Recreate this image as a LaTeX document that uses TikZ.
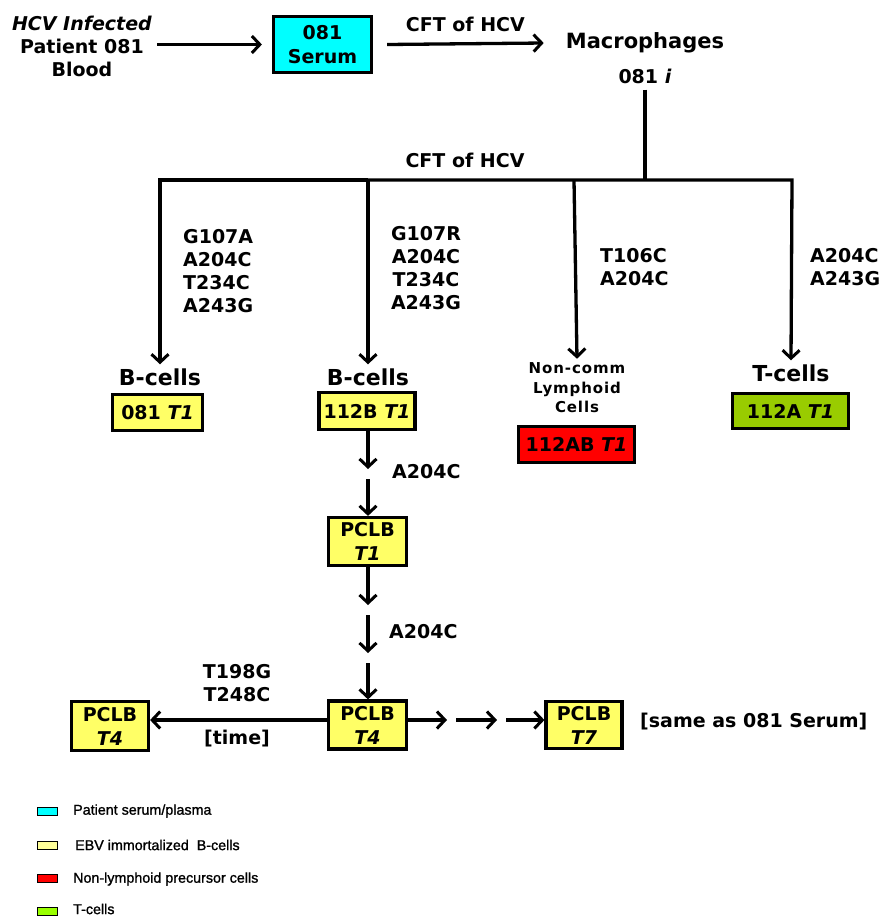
\documentclass[tikz,border=0pt]{standalone}
\usepackage{fontspec}
\setmainfont{DejaVu Sans}
\newfontfamily\legfont[FakeBold=1.2]{Liberation Sans}
\usetikzlibrary{arrows.meta}
\definecolor{cyanbox}{HTML}{00FFFF}
\definecolor{ybox}{HTML}{FFFF66}
\definecolor{redbox}{HTML}{FF0000}
\definecolor{gbox}{HTML}{99CC00}
\definecolor{legy}{HTML}{FFFF99}
\definecolor{legg}{HTML}{99FF00}
\begin{document}
\begin{tikzpicture}[x=1pt,y=-1pt,
  txt/.style={font=\bfseries\fontsize{19}{23}\selectfont, align=center, inner sep=0pt},
  big/.style={font=\bfseries\fontsize{22}{26}\selectfont, inner sep=4pt},
  small/.style={font=\bfseries\fontsize{15}{19.5}\selectfont\addfontfeature{LetterSpace=6}, align=center, inner sep=3pt},
  cbox/.style={draw=black, line width=3.2pt, font=\bfseries\fontsize{19}{24}\selectfont, align=center, inner sep=0pt},
  ln/.style={line width=3.3pt},
  arr/.style={line width=3.3pt, -{Straight Barb[length=8pt,width=17pt,line width=3pt]}},
  legbox/.style={draw=black, line width=1pt, minimum width=20pt, minimum height=8pt, inner sep=0pt},
  legtxt/.style={font=\legfont\fontsize{14.3}{16}\selectfont, anchor=west, inner sep=0pt}]
\useasboundingbox (0,0) rectangle (884,916);

% top row
\node[txt] (patient) at (82,46) {\textit{HCV Infected}\\Patient 081\\Blood};
\node[cbox, fill=cyanbox, minimum width=98pt, minimum height=56pt] (serum) at (322.5,44.5) {081\\Serum};
\node[font=\bfseries\fontsize{21}{25}\selectfont, inner sep=0pt] (macro) at (645,43) {Macrophages};
\node[txt] (m081) at (645,76) {081 \textit{i}};
\draw[arr] (patient.east |- serum.west) ++(5,0) -- ([xshift=-10pt]serum.west);
\draw[arr] ([xshift=14pt]serum.east) -- node[txt, yshift=19pt] (cft1) {CFT of HCV} ([xshift=-22pt]macro.west);

% branching
\coordinate (j) at (645,180);
\coordinate (b1) at (160,180);
\coordinate (b2) at (368,180);
\coordinate (b3) at (574,180);
\coordinate (b4) at (792,180);
\draw[ln] ([yshift=-6pt]m081.south) -- (j);
\node[txt] (cft2) at (465,160) {CFT of HCV};

\node[big] (bc1) at (160,377) {B-cells};
\node[big] (bc2) at (368,377) {B-cells};
\node[small] (nc) at (577,388) {Non-comm\\Lymphoid\\Cells};
\node[big] (tc) at (791,373) {T-cells};

\draw[arr, line join=miter] (b2) -- (b1) -- (bc1.north);
\draw[arr, line join=miter] (b2) -- (b4) -- (tc.north);
\draw[arr] (b2) -- (bc2.north);
\draw[arr] (b3) -- ([yshift=1pt]nc.north);

\node[txt, align=left, anchor=west] (l1) at (183,271) {G107A\\A204C\\T234C\\A243G};
\node[txt] (l2) at (426,268) {G107R\\A204C\\T234C\\A243G};
\node[txt, align=left, anchor=west] (l3) at (600,267) {T106C\\A204C};
\node[txt, align=left, anchor=west] (l4) at (810,267) {A204C\\A243G};

% cell boxes
\node[cbox, fill=ybox, minimum width=90pt, minimum height=36pt] (t081) at (157.5,412.5) {081 \textit{T1}};
\node[cbox, fill=ybox, minimum width=96pt, minimum height=37pt] (t112B) at (367,411) {112B \textit{T1}};
\node[cbox, fill=redbox, minimum width=116pt, minimum height=36pt] (t112AB) at (576.5,444.5) {112AB \textit{T1}};
\node[cbox, fill=gbox, minimum width=116pt, minimum height=35pt] (t112A) at (790.5,411) {112A \textit{T1}};

% chain
\node[cbox, fill=ybox, minimum width=78pt, minimum height=48pt] (p1) at (367.5,541.5) {PCLB\\\textit{T1}};
\node[cbox, fill=ybox, minimum width=78pt, minimum height=48pt] (p4) at (367.5,725) {PCLB\\\textit{T4}};
\node[cbox, fill=ybox, minimum width=77pt, minimum height=49pt] (pl) at (110,726) {PCLB\\\textit{T4}};
\node[cbox, fill=ybox, minimum width=76pt, minimum height=47pt] (p7) at (584,725) {PCLB\\\textit{T7}};

\coordinate (c1) at (368,469);
\coordinate (c2) at (368,479);
\coordinate (c3) at (368,605);
\coordinate (c4) at (368,615);
\coordinate (c5) at (368,653);
\coordinate (c6) at (368,663);
\draw[arr] (t112B.south -| c1) -- (c1);
\draw[arr] (c2) -- (p1.north -| c2);
\draw[arr] (p1.south -| c3) -- (c3);
\draw[arr] (c4) -- (c5);
\draw[arr] (c6) -- (p4.north -| c6);
\node[txt, anchor=west] (a1) at (392,472) {A204C};
\node[txt, anchor=west] (a2) at (389,632) {A204C};

% bottom row
\coordinate (r0) at (0,720);
\coordinate (r1) at (447,720);
\coordinate (r2) at (456,720);
\coordinate (r3) at (497,720);
\coordinate (r4) at (506,720);
\draw[arr] (p4.west |- r0) -- (pl.east |- r0);
\node[txt] (tt) at (237,683) {T198G\\T248C};
\node[txt] (time) at (237,739) {[time]};
\draw[arr] (p4.east |- r0) -- (r1);
\draw[arr] (r2) -- (r3);
\draw[arr] (r4) -- (p7.west |- r0);
\node[txt, anchor=west] (same) at (640,722) {[same as 081 Serum]};

% legend
\node[legbox, fill=cyanbox] (g1) at (47,811) {};
\node[legbox, fill=legy] (g2) at (47,845) {};
\node[legbox, fill=redbox] (g3) at (47,878.5) {};
\node[legbox, fill=legg] (g4) at (47,911) {};
\node[legtxt] (g1t) at (73,811) {Patient serum/plasma};
\node[legtxt] (g2t) at (75,845) {EBV immortalized\ \ B-cells};
\node[legtxt] (g3t) at (73,879) {Non-lymphoid precursor cells};
\node[legtxt] (g4t) at (73,909) {T-cells};
\end{tikzpicture}
\end{document}
